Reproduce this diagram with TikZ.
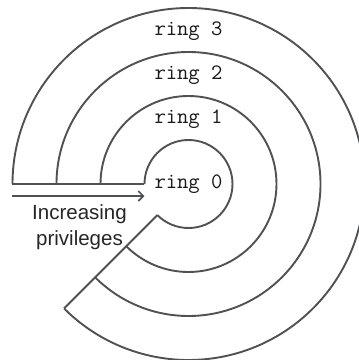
\documentclass[tikz,border=0pt]{standalone}
\usepackage{fontspec}
\newfontfamily\labelsans{Liberation Sans}
\usetikzlibrary{arrows.meta}
\definecolor{ringgray}{HTML}{505153}
\tikzset{
  ringline/.style={draw=ringgray, line width=1.9pt},
  ringlabel/.style={font=\fontsize{22}{26}\selectfont\ttfamily\addfontfeatures{FakeBold=0.6}, text=black!90, inner sep=0pt},
  sidelabel/.style={font=\fontsize{20.5}{24}\selectfont\labelsans, text=black!85, inner sep=0pt, anchor=base},
  privarrow/.style={draw=ringgray, line width=1.9pt, -{Straight Barb[length=5pt,width=10pt,line width=1.6pt]}}
}
\begin{document}
\begin{tikzpicture}[x=1pt,y=1pt]
\useasboundingbox (0,0) rectangle (359,360);
\coordinate (C) at (188.5,176);
% ring arcs
\foreach \r in {44,88,132,176}{
  \draw[ringline] (C) ++(180:\r) arc[start angle=180, end angle=-135, radius=\r];
}
% radial boundaries
\draw[ringline] (C) ++(180:44) coordinate (hin) -- ++(180:132) coordinate (hout);
\draw[ringline] (C) ++(225:44) coordinate (din) -- ++(225:132) coordinate (dout);
% labels
\node[ringlabel] (r3) at (188.5,329) {ring 3};
\node[ringlabel] (r2) at (188.5,285) {ring 2};
\node[ringlabel] (r1) at (188.5,240.5) {ring 1};
\node[ringlabel] (r0) at (188.5,176) {ring 0};
% arrow
\coordinate (astart) at (12.5,164);
\coordinate (aend) at (144.5,164);
\draw[privarrow] (astart) -- (aend);
\node[sidelabel] (inc) at (79.5,141) {Increasing};
\node[sidelabel] (priv) at (79.5,114) {privileges};
\end{tikzpicture}
\end{document}
